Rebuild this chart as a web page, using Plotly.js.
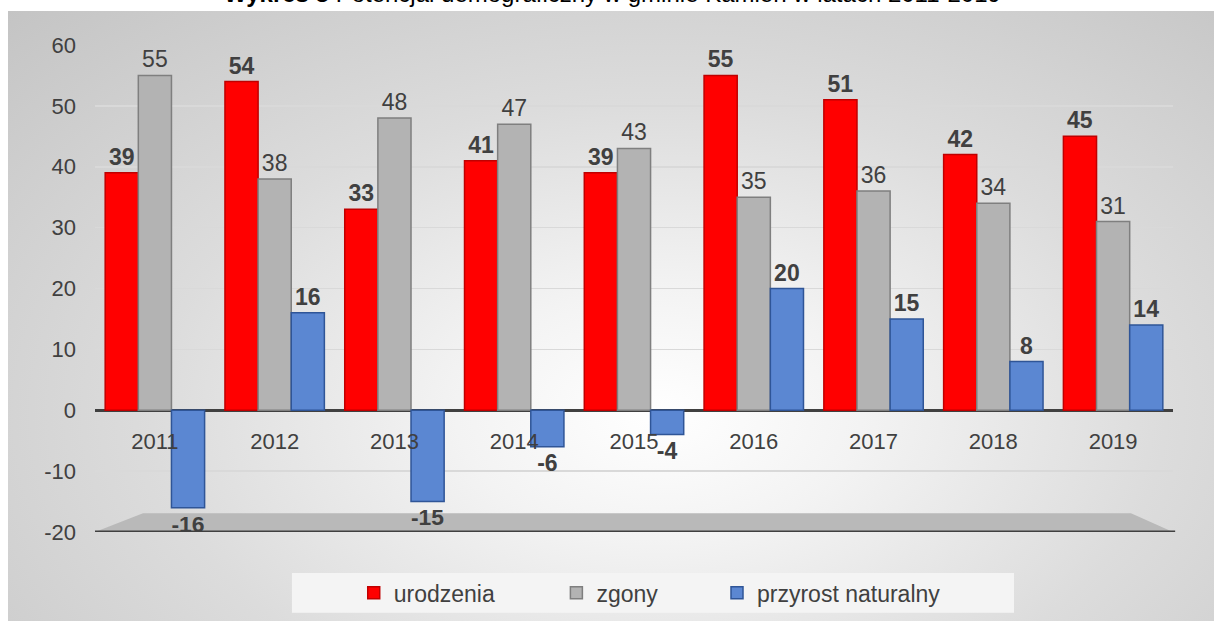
<!DOCTYPE html>
<html>
<head>
<meta charset="utf-8">
<script src="https://cdn.plot.ly/plotly-3.0.1.min.js"></script>
<style>
  html, body { margin: 0; padding: 0; background: #ffffff; }
  #wrap { position: relative; width: 1214px; height: 621px; overflow: hidden; }
  #bg {
    position: absolute; left: 8px; top: 11px; right: 0; bottom: 0;
    background: radial-gradient(ellipse at 54% 66%, #ffffff 0%, #f3f3f3 22%, #dcdcdc 55%, #c4c4c4 100%);
  }
  #chart { position: absolute; left: 0; top: 0; width: 1214px; height: 621px; }
</style>
</head>
<body>
<div id="wrap">
  <div id="bg"></div>
  <div id="chart"></div>
</div>
<script>
// ---- data ----
const years = ['2011', '2012', '2013', '2014', '2015', '2016', '2017', '2018', '2019'];
const urodzenia = [39, 54, 33, 41, 39, 55, 51, 42, 45];
const zgony = [55, 38, 48, 47, 43, 35, 36, 34, 31];
const przyrost = [-16, 16, -15, -6, -4, 20, 15, 8, 14];
const seriesNames = ['urodzenia', 'zgony', 'przyrost naturalny'];
const yTickVals = [-20, -10, 0, 10, 20, 30, 40, 50, 60];
const yTickText = ['-20', '-10', '0', '10', '20', '30', '40', '50', '60'];
const titleText = '<b>Wykres 3</b> Potencjał demograficzny w gminie Kamień w latach 2011-2019';

const FONT = 'Liberation Sans, Arial, sans-serif';
const TXT = '#404040';

function barTrace(name, vals, fill, border, bold, legendId) {
  return {
    type: 'bar',
    name: name,
    legend: legendId,
    x: years,
    y: vals,
    text: vals.map(v => String(v)),
    textposition: 'outside',
    cliponaxis: false,
    textfont: { family: FONT, size: 23, color: TXT, weight: bold ? 'bold' : 'normal' },
    marker: { color: fill, line: { color: border, width: 1.5 } },
    hoverinfo: 'skip'
  };
}

const data = [
  barTrace(seriesNames[0], urodzenia, '#ff0000', '#c00000', true, 'legend'),
  barTrace(seriesNames[1], zgony, '#b3b3b3', '#7f7f7f', false, 'legend2'),
  barTrace(seriesNames[2], przyrost, '#5b87d2', '#2f5597', true, 'legend3')
];

function legendAt(x) {
  return {
    orientation: 'h',
    x: x, xanchor: 'left',
    y: -0.125, yanchor: 'middle',
    bgcolor: 'rgba(0,0,0,0)',
    font: { family: FONT, size: 23, color: TXT }
  };
}

const layout = {
  width: 1214,
  height: 621,
  paper_bgcolor: 'rgba(0,0,0,0)',
  plot_bgcolor: 'rgba(0,0,0,0)',
  margin: { l: 95, r: 41, t: 45, b: 89, autoexpand: false },
  font: { family: FONT, color: TXT, size: 22 },
  barmode: 'group',
  bargap: 0.17,
  bargroupgap: 0,
  showlegend: true,
  legend: legendAt(0.240),
  legend2: legendAt(0.428),
  legend3: legendAt(0.577),
  xaxis: {
    type: 'category',
    anchor: 'free',
    position: 0.25,
    showline: false,
    showgrid: false,
    zeroline: false,
    ticks: '',
    ticklabelstandoff: 16,
    tickfont: { family: FONT, size: 22, color: TXT }
  },
  yaxis: {
    range: [-20, 60],
    tickvals: yTickVals,
    ticktext: yTickText,
    showgrid: true,
    gridcolor: '#d9d9d9',
    gridwidth: 1.5,
    zeroline: true,
    zerolinecolor: '#404040',
    zerolinewidth: 3,
    showline: false,
    ticks: '',
    ticklabelstandoff: 18,
    tickfont: { family: FONT, size: 22, color: TXT }
  },
  shapes: [
    { type: 'rect', xref: 'paper', yref: 'paper', x0: 0.1827, x1: 0.8525, y0: -0.166, y1: -0.0842,
      fillcolor: '#f4f4f4', line: { width: 0 }, layer: 'below' },
    { type: 'path', xref: 'paper', yref: 'y', layer: 'below',
      path: 'M 0 -20 L 0.0445 -16.9 L 0.961 -16.9 L 1 -20 Z',
      fillcolor: '#b9b9b9', line: { width: 0 } },
    { type: 'line', xref: 'paper', yref: 'y', x0: 0, x1: 1.002, y0: -20, y1: -20,
      line: { color: '#404040', width: 3 }, layer: 'above' }
  ],
  annotations: [
    { text: titleText, xref: 'paper', yref: 'paper', x: 0.48, y: 1.1048,
      xanchor: 'center', yanchor: 'middle', showarrow: false,
      font: { family: FONT, size: 24, color: '#000000' } }
  ]
};

Plotly.newPlot('chart', data, layout, { displayModeBar: false, staticPlot: true });
</script>
</body>
</html>
